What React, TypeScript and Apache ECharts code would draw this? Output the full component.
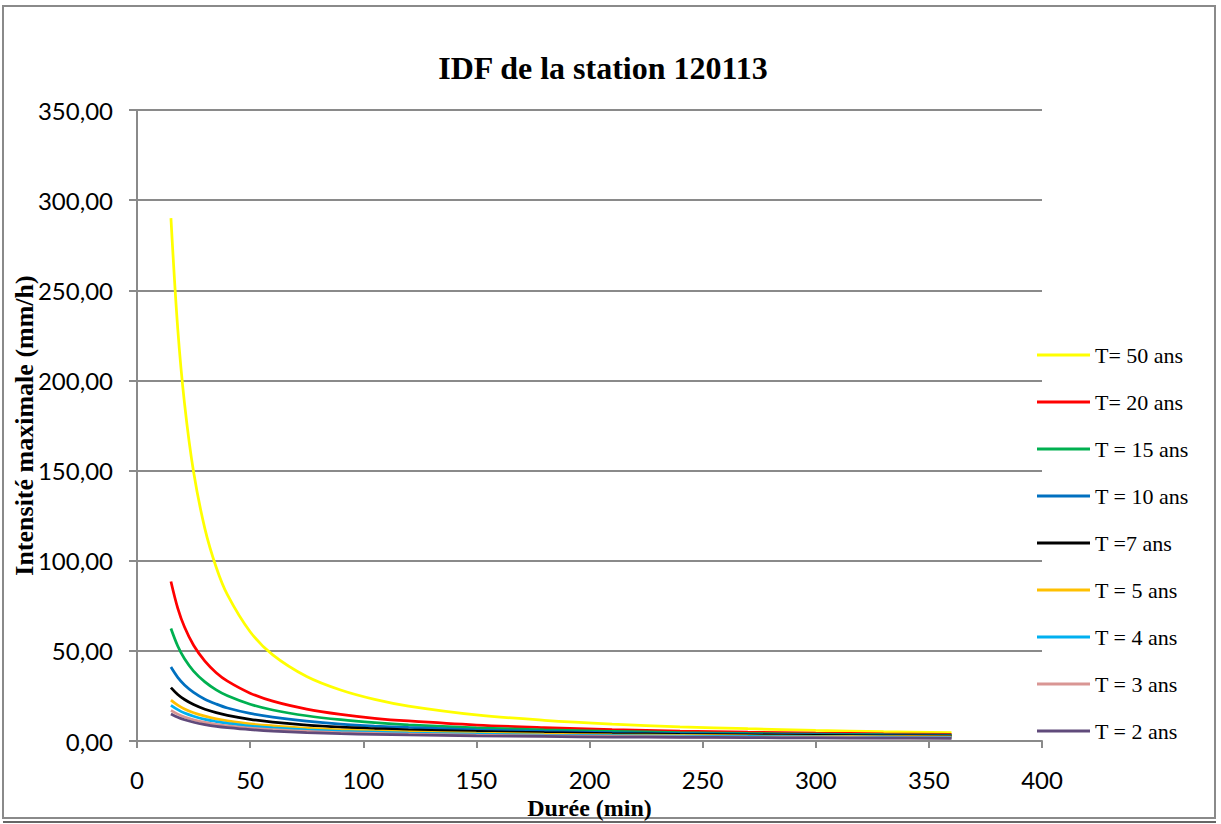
import React, { useEffect, useRef } from "react";
import * as echarts from "echarts";

const durations = [15, 18, 21, 25, 30, 35, 40, 50, 60, 75, 90, 105, 120, 150, 180, 210, 240, 270, 300, 330, 360];
const t50 = [290, 228.8, 187.3, 149.3, 117.8, 96.4, 81.0, 60.6, 47.8, 35.8, 28.3, 23.1, 19.4, 14.5, 11.5, 9.4, 7.9, 6.8, 5.9, 5.2, 4.65];
const t20 = [88.5, 73.75, 63.2, 53.1, 44.25, 37.9, 33.2, 26.55, 22.1, 17.7, 14.75, 12.6, 11.1, 8.85, 7.4, 6.3, 5.5, 4.9, 4.4, 4.0, 3.7];
const t15 = [62.4, 52.7, 45.6, 38.8, 32.8, 28.4, 25.1, 20.4, 17.2, 14.0, 11.8, 10.2, 9.0, 7.3, 6.2, 5.4, 4.7, 4.2, 3.85, 3.5, 3.25];
const t10 = [41, 35.3, 31.1, 27.0, 23.2, 20.5, 18.3, 15.3, 13.2, 11.0, 9.4, 8.3, 7.5, 6.2, 5.3, 4.7, 4.2, 3.8, 3.5, 3.25, 3.0];
const t7 = [29.6, 25.8, 23.0, 20.2, 17.6, 15.7, 14.2, 12.0, 10.5, 8.85, 7.7, 6.9, 6.2, 5.3, 4.6, 4.1, 3.7, 3.4, 3.1, 2.9, 2.7];
const t5 = [22.7, 19.9, 17.8, 15.7, 13.8, 12.3, 11.2, 9.5, 8.4, 7.1, 6.2, 5.6, 5.1, 4.3, 3.8, 3.4, 3.1, 2.8, 2.6, 2.45, 2.3];
const t4 = [19.8, 17.4, 15.5, 13.7, 12.0, 10.8, 9.8, 8.3, 7.3, 6.2, 5.4, 4.9, 4.4, 3.8, 3.3, 3.0, 2.7, 2.5, 2.3, 2.1, 2.0];
const t3 = [17.0, 14.9, 13.3, 11.8, 10.3, 9.2, 8.4, 7.1, 6.3, 5.3, 4.7, 4.2, 3.8, 3.2, 2.8, 2.5, 2.3, 2.1, 2.0, 1.8, 1.7];
const t2 = [15.0, 13.2, 11.8, 10.4, 9.1, 8.1, 7.4, 6.3, 5.5, 4.7, 4.1, 3.7, 3.4, 2.9, 2.5, 2.2, 2.0, 1.9, 1.7, 1.6, 1.5];

const seriesNames = ["T= 50 ans", "T= 20 ans", "T = 15 ans", "T = 10 ans", "T =7 ans", "T = 5 ans", "T = 4 ans", "T = 3 ans", "T = 2 ans"];
const seriesValues = [t50, t20, t15, t10, t7, t5, t4, t3, t2];
const seriesColors = ["#FFFF00", "#FF0000", "#00B050", "#0070C0", "#000000", "#FFC000", "#00B0F0", "#D99694", "#604A7B"];

const titleText = "IDF de la station 120113";
const xName = "Durée (min)";
const yName = "Intensité maximale (mm/h)";

const serif = "'Liberation Serif', 'Times New Roman', serif";
const sans = "Lato, 'Open Sans', sans-serif";
const gray = "#8a8a8a";

export default function App() {
  const ref = useRef<HTMLDivElement>(null);
  useEffect(() => {
    if (!ref.current) return;
    const chart = echarts.init(ref.current, undefined, { renderer: "svg" });
    chart.setOption({
      animation: false,
      backgroundColor: "#ffffff",
      title: {
        text: titleText,
        left: 598,
        top: 47,
        textAlign: "center",
        textStyle: { fontFamily: serif, fontWeight: "bold", fontSize: 32, color: "#000" },
      },
      graphic: [
        {
          type: "rect",
          shape: { x: 3, y: 6, width: 1212, height: 812 },
          style: { fill: "none", stroke: gray, lineWidth: 2 },
          silent: true,
        },
        {
          type: "line",
          shape: { x1: 3, y1: 822, x2: 1216, y2: 822 },
          style: { stroke: "#333", lineWidth: 1.5 },
          silent: true,
        },
      ],
      legend: {
        orient: "vertical",
        left: 1037,
        top: 344,
        padding: 0,
        icon: "rect",
        itemWidth: 53,
        itemHeight: 3,
        itemGap: 25,
        textStyle: { fontFamily: serif, fontSize: 22, lineHeight: 22, color: "#000" },
        data: seriesNames,
      },
      grid: { left: 137, right: 179, top: 110, bottom: 83, containLabel: false, outerBoundsMode: "none" },
      xAxis: {
        type: "value",
        min: 0,
        max: 400,
        interval: 50,
        name: xName,
        nameLocation: "middle",
        nameGap: 57,
        nameMoveOverlap: false,
        nameTextStyle: { fontFamily: serif, fontWeight: "bold", fontSize: 24, lineHeight: 20, color: "#000" },
        axisLine: { show: true, lineStyle: { color: gray, width: 2 } },
        axisTick: { show: true, length: 7, lineStyle: { color: gray, width: 2 } },
        axisLabel: { margin: 30, fontFamily: sans, fontSize: 24, lineHeight: 16, color: "#000" },
        splitLine: { show: false },
      },
      yAxis: {
        type: "value",
        min: 0,
        max: 350,
        interval: 50,
        name: yName,
        nameLocation: "middle",
        nameGap: 100,
        nameMoveOverlap: false,
        nameTextStyle: { fontFamily: serif, fontWeight: "bold", fontSize: 26, lineHeight: 26, color: "#000" },
        axisLine: { show: true, lineStyle: { color: gray, width: 2 } },
        axisTick: { show: true, length: 8, lineStyle: { color: gray, width: 2 } },
        axisLabel: {
          margin: 24,
          fontFamily: sans,
          fontSize: 24,
          color: "#000",
          formatter: (v: number) => v.toFixed(2).replace(".", ","),
        },
        splitLine: { show: true, lineStyle: { color: gray, width: 2 } },
      },
      series: seriesNames.map((name, i) => ({
        name,
        type: "line",
        smooth: 0.35,
        symbol: "none",
        showSymbol: false,
        color: seriesColors[i],
        itemStyle: { color: seriesColors[i] },
        lineStyle: { color: seriesColors[i], width: 2.75 },
        data: durations.map((d, j) => [d, seriesValues[i][j]]),
      })),
    });
    return () => chart.dispose();
  }, []);
  return <div ref={ref} style={{ position: "fixed", left: 0, top: 0, width: 1221, height: 824 }} />;
}
